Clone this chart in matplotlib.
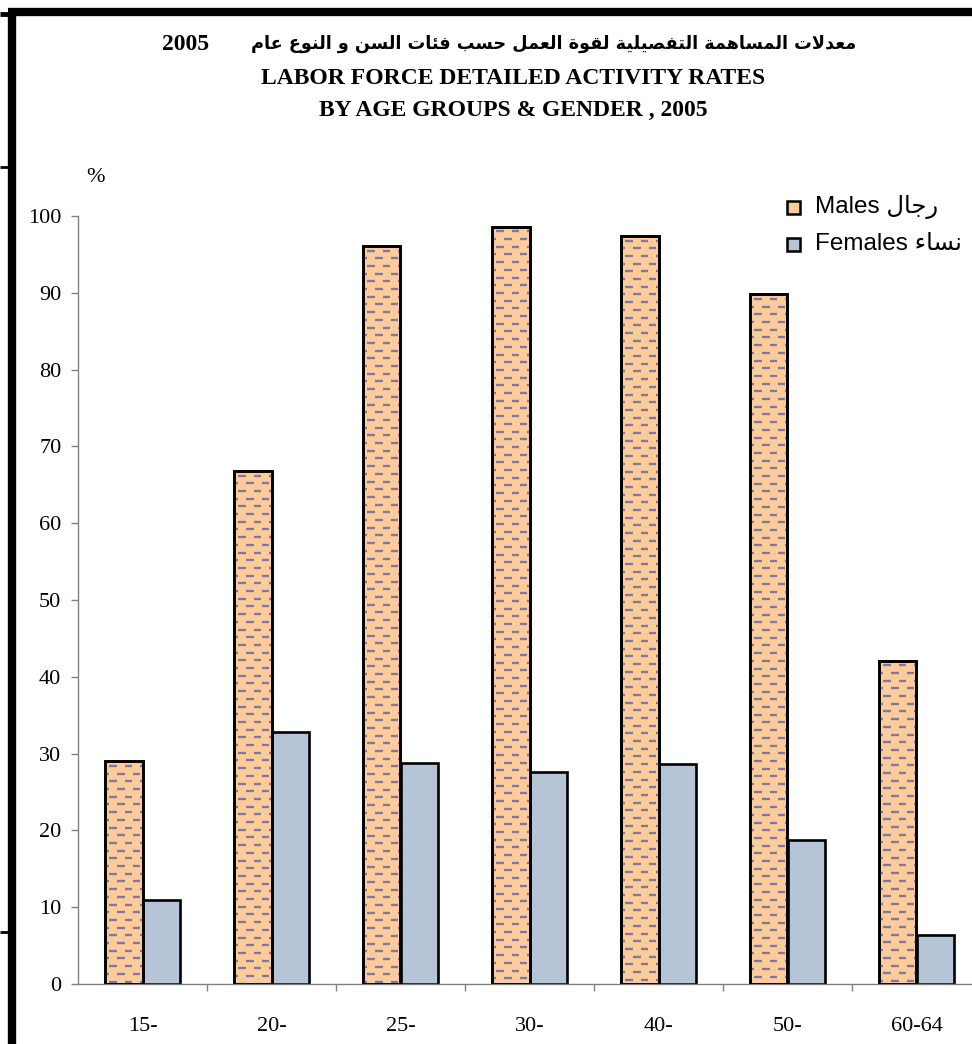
import matplotlib
matplotlib.use("Agg")
import matplotlib.pyplot as plt
from matplotlib.patches import Rectangle
from matplotlib.collections import LineCollection
from matplotlib.lines import Line2D
import numpy as np

# ---------------- data ----------------
categories = ["15-", "20-", "25-", "30-", "40-", "50-", "60-64"]
males = [29.0, 66.8, 96.1, 98.6, 97.4, 89.8, 42.1]
females = [11.0, 32.8, 28.8, 27.6, 28.7, 18.7, 6.4]
y_ticks = [0, 10, 20, 30, 40, 50, 60, 70, 80, 90, 100]

title_ar = "معدلات المساهمة التفصيلية لقوة العمل حسب فئات السن و النوع عام"
title_year = "2005"
title_en1 = "LABOR FORCE DETAILED ACTIVITY RATES"
title_en2 = "BY AGE GROUPS & GENDER , 2005"
label_males_en, label_males_ar = "Males", "رجال"
label_females_en, label_females_ar = "Females", "نساء"

# ---------------- simple Arabic shaping (presentation forms + RTL) ----------------
def _f(base, n):
    return tuple(chr(base + i) for i in range(n))

FORMS = {
    '\u0621': _f(0xFE80, 1), '\u0622': _f(0xFE81, 2), '\u0623': _f(0xFE83, 2),
    '\u0624': _f(0xFE85, 2), '\u0625': _f(0xFE87, 2), '\u0626': _f(0xFE89, 4),
    '\u0627': _f(0xFE8D, 2), '\u0628': _f(0xFE8F, 4), '\u0629': _f(0xFE93, 2),
    '\u062A': _f(0xFE95, 4), '\u062B': _f(0xFE99, 4), '\u062C': _f(0xFE9D, 4),
    '\u062D': _f(0xFEA1, 4), '\u062E': _f(0xFEA5, 4), '\u062F': _f(0xFEA9, 2),
    '\u0630': _f(0xFEAB, 2), '\u0631': _f(0xFEAD, 2), '\u0632': _f(0xFEAF, 2),
    '\u0633': _f(0xFEB1, 4), '\u0634': _f(0xFEB5, 4), '\u0635': _f(0xFEB9, 4),
    '\u0636': _f(0xFEBD, 4), '\u0637': _f(0xFEC1, 4), '\u0638': _f(0xFEC5, 4),
    '\u0639': _f(0xFEC9, 4), '\u063A': _f(0xFECD, 4), '\u0641': _f(0xFED1, 4),
    '\u0642': _f(0xFED5, 4), '\u0643': _f(0xFED9, 4), '\u0644': _f(0xFEDD, 4),
    '\u0645': _f(0xFEE1, 4), '\u0646': _f(0xFEE5, 4), '\u0647': _f(0xFEE9, 4),
    '\u0648': _f(0xFEED, 2), '\u0649': _f(0xFEEF, 2), '\u064A': _f(0xFEF1, 4),
}
LAM_ALEF = {'\u0622': ('\uFEF5', '\uFEF6'), '\u0623': ('\uFEF7', '\uFEF8'),
            '\u0625': ('\uFEF9', '\uFEFA'), '\u0627': ('\uFEFB', '\uFEFC')}


def shape_ar(text):
    ch = list(text)
    out = []
    i = 0
    while i < len(ch):
        c = ch[i]
        if c not in FORMS:
            out.append(c)
            i += 1
            continue
        prev = ch[i - 1] if i > 0 else None
        cp = prev in FORMS and len(FORMS[prev]) == 4 and len(FORMS[c]) >= 2
        nxt = ch[i + 1] if i + 1 < len(ch) else None
        if c == '\u0644' and nxt in LAM_ALEF:
            out.append(LAM_ALEF[nxt][1 if cp else 0])
            i += 2
            continue
        cn = len(FORMS[c]) == 4 and nxt in FORMS and len(FORMS[nxt]) >= 2
        if cp and cn:
            out.append(FORMS[c][3])
        elif cp:
            out.append(FORMS[c][1])
        elif cn:
            out.append(FORMS[c][2])
        else:
            out.append(FORMS[c][0])
        i += 1
    return ''.join(out)[::-1]


# ---------------- figure ----------------
W, H = 972, 1044
fig = plt.figure(figsize=(W / 100, H / 100), dpi=100)
fig.patch.set_facecolor("white")

SERIF = ["Liberation Serif", "DejaVu Sans"]
SANS = ["Liberation Sans", "DejaVu Sans"]

ax_left, ax_right, ax_top, ax_bot = 78, 981, 216, 984
ax = fig.add_axes([ax_left / W, 1 - ax_bot / H, (ax_right - ax_left) / W, (ax_bot - ax_top) / H])
ax.set_xlim(-0.5, len(categories) - 0.5)
ax.set_ylim(0, 100)

c_m = "#FFCC99"
c_f = "#B5C4D6"
c_dash = "#7A7AA4"
bw = 0.287
x = np.arange(len(categories))

bm = ax.bar(x - bw / 2, males, bw, color=c_m, edgecolor="black", linewidth=1.9, zorder=2)
bf = ax.bar(x + bw / 2, females, bw, color=c_f, edgecolor="black", linewidth=1.9, zorder=2)

# dash texture on male bars (computed from bar geometry)
sx = (ax.get_xlim()[1] - ax.get_xlim()[0]) / (ax_right - ax_left)   # data per px
sy = 100 / (ax_bot - ax_top)
row_px, period_px, dash_px = 7.7, 15.5, 7.5
for rect in bm.patches:
    x0, y0, w, h = rect.get_x(), rect.get_y(), rect.get_width(), rect.get_height()
    segs = []
    nrows = int(h / (row_px * sy)) + 1
    for k in range(nrows):
        yy = y0 + h - (k + 0.6) * row_px * sy
        if yy <= y0:
            break
        off = (k % 2) * period_px / 2
        xs = x0 + (off - period_px + 4) * sx
        while xs < x0 + w:
            segs.append([(xs, yy), (xs + dash_px * sx, yy)])
            xs += period_px * sx
    lc = LineCollection(segs, colors=c_dash, linewidths=1.7, zorder=2.5)
    ax.add_collection(lc)
    lc.set_clip_path(rect)
    ax.add_patch(Rectangle((x0, y0), w, h, fill=False, edgecolor="black", linewidth=1.9, zorder=3))

# axes styling
for s in ["top", "right"]:
    ax.spines[s].set_visible(False)
for s in ["left", "bottom"]:
    ax.spines[s].set_color("#808080")
    ax.spines[s].set_linewidth(1.0)

ax.set_yticks(y_ticks)
ax.set_yticklabels([str(v) for v in y_ticks], family=SERIF, fontsize=16)
ax.tick_params(axis="y", direction="out", length=5, width=1, color="#808080", pad=7)

ax.set_xticks(x)
ax.set_xticklabels(categories, family=SERIF, fontsize=16)
ax.set_xticks(np.arange(len(categories)) + 0.5, minor=True)
ax.tick_params(axis="x", which="major", length=0, pad=24)
ax.tick_params(axis="x", which="minor", direction="out", length=5, width=1, color="#808080")

# "%" unit
fig.text(95 / W, 1 - 178 / H, "%", family=SERIF, fontsize=16, ha="center", va="center")

# titles
fig.text(162 / W, 1 - 45 / H, title_year, family=SERIF, fontweight="bold", fontsize=17,
         ha="left", va="center")
fig.text(856 / W, 1 - 44 / H, shape_ar(title_ar), family=["DejaVu Sans"], fontweight="bold",
         fontsize=12.7, ha="right", va="center")
cx = 513 / W
fig.text(cx, 1 - 78 / H, title_en1, family=SERIF, fontweight="bold", fontsize=17,
         ha="center", va="center")
fig.text(cx, 1 - 110 / H, title_en2, family=SERIF, fontweight="bold", fontsize=17,
         ha="center", va="center")

# legend (placed manually)
leg_items = [(c_m, label_males_en + " " + shape_ar(label_males_ar), 207),
             (c_f, label_females_en + " " + shape_ar(label_females_ar), 244)]
for col, lab, yc in leg_items:
    fig.add_artist(Rectangle((787 / W, 1 - (yc + 6.5) / H), 13 / W, 13 / H, facecolor=col,
                             edgecolor="black", linewidth=1.8, transform=fig.transFigure))
    fig.text(815 / W, 1 - yc / H, lab, family=SANS, fontsize=17.5, ha="left", va="center")

# frame decorations
def fline(xs, ys, lw):
    fig.add_artist(Line2D([v / W for v in xs], [1 - v / H for v in ys], color="black",
                          linewidth=lw, solid_capstyle="butt", transform=fig.transFigure))

fline([8, W], [12, 12], 6.0)
fline([12, 12], [12, H], 6.0)
fline([0, 12], [13.5, 13.5], 3.5)
fline([0, 12], [167, 167], 2.0)
fline([0, 12], [932, 932], 2.0)

fig.savefig("out.png", dpi=100, facecolor="white")
